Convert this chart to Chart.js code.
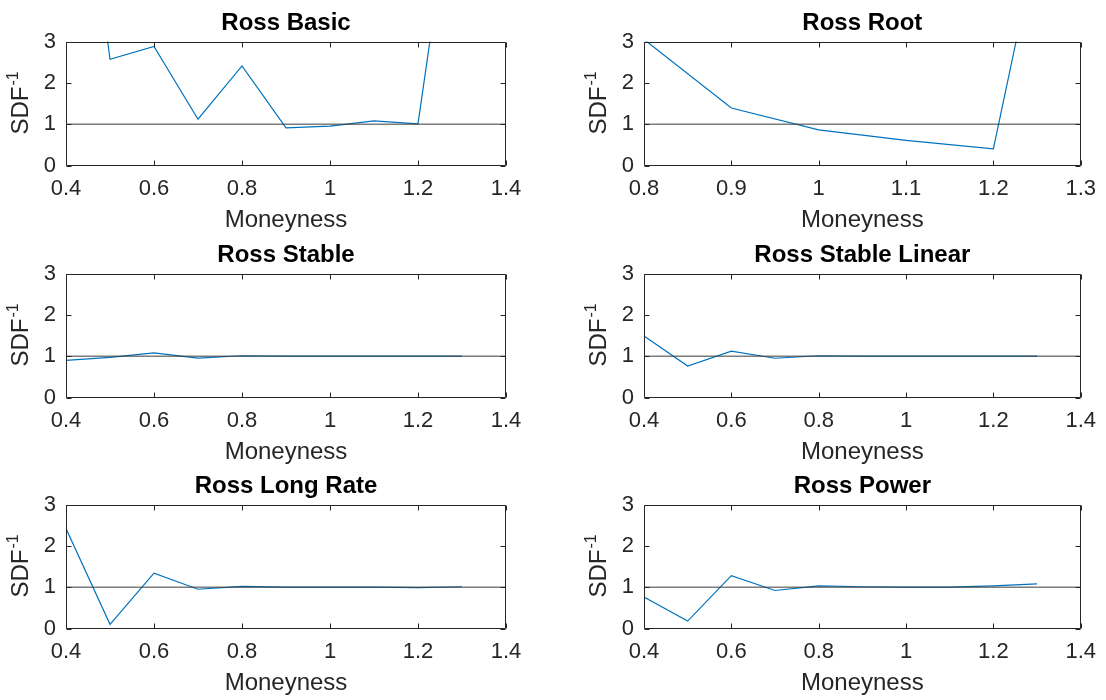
<!DOCTYPE html>
<html><head><meta charset="utf-8">
<script src="https://cdn.jsdelivr.net/npm/chart.js@4.4.0/dist/chart.umd.min.js"></script>
<style>
html,body{margin:0;padding:0;background:#fff;overflow:hidden;width:1106px;height:700px;position:relative;}
canvas{position:absolute;}
</style></head><body>
<canvas id="c0" width="540" height="240" style="left:0px;top:0px"></canvas>
<canvas id="c1" width="528" height="240" style="left:578px;top:0px"></canvas>
<canvas id="c2" width="540" height="240" style="left:0px;top:232px"></canvas>
<canvas id="c3" width="528" height="240" style="left:578px;top:232px"></canvas>
<canvas id="c4" width="540" height="240" style="left:0px;top:463px"></canvas>
<canvas id="c5" width="528" height="240" style="left:578px;top:463px"></canvas>
<script>
// ---- data ----
const moneyness = [0.4, 0.5, 0.6, 0.7, 0.8, 0.9, 1.0, 1.1, 1.2, 1.3];
const moneynessRoot = [0.8, 0.9, 1.0, 1.1, 1.2, 1.3];
const rossBasic = [10.8, 2.57, 2.88, 1.12, 2.41, 0.91, 0.955, 1.08, 1.01, 8.4];
const rossRoot = [3.05, 1.39, 0.86, 0.61, 0.40, 10.4];
const rossStable = [0.90, 0.97, 1.08, 0.955, 1.01, 1.0, 1.0, 1.0, 1.0, 1.0];
const rossStableLinear = [1.49, 0.76, 1.12, 0.95, 1.01, 1.0, 1.0, 1.0, 1.0, 1.0];
const rossLongRate = [2.42, 0.10, 1.34, 0.95, 1.02, 1.0, 1.0, 1.0, 0.99, 1.01];
const rossPower = [0.76, 0.18, 1.28, 0.92, 1.03, 1.01, 1.0, 1.0, 1.03, 1.08];
const titles = ['Ross Basic', 'Ross Root', 'Ross Stable', 'Ross Stable Linear', 'Ross Long Rate', 'Ross Power'];
const xTicksWide = [0.4, 0.6, 0.8, 1, 1.2, 1.4];
const xTicksRoot = [0.8, 0.9, 1, 1.1, 1.2, 1.3];
const yTicks = [0, 1, 2, 3];
const refLevel = 1;
const xLabel = 'Moneyness';
const yLabelMain = 'SDF';
const yLabelSup = '-1';

const FONT = '"Liberation Sans", Arial, Helvetica, sans-serif';
Chart.defaults.font.family = FONT;
const AXC = '#262626';

const boxPlugin = {
  id: 'boxTicks',
  afterDraw(chart) {
    const {ctx, chartArea: a} = chart;
    const xs = chart.scales.x, ys = chart.scales.y;
    ctx.save();
    ctx.strokeStyle = AXC;
    ctx.lineWidth = 1;
    ctx.beginPath();
    const L = Math.round(a.left) + 0.5, R = Math.round(a.right) - 0.5;
    const T = Math.round(a.top) + 0.5, B = Math.round(a.bottom) - 0.5;
    ctx.rect(L, T, R - L, B - T);
    const tl = 5;
    xs.ticks.forEach(t => {
      const p = Math.round(xs.getPixelForValue(t.value)) + 0.5;
      ctx.moveTo(p, B); ctx.lineTo(p, B - tl);
      ctx.moveTo(p, T); ctx.lineTo(p, T + tl);
    });
    ys.ticks.forEach(t => {
      const p = Math.round(ys.getPixelForValue(t.value)) + 0.5;
      ctx.moveTo(L, p); ctx.lineTo(L + tl, p);
      ctx.moveTo(R, p); ctx.lineTo(R - tl, p);
    });
    ctx.stroke();
    // y-axis title with superscript
    const cx = a.left - 47, cy = (a.top + a.bottom) / 2;
    ctx.translate(cx, cy);
    ctx.rotate(-Math.PI / 2);
    ctx.fillStyle = AXC;
    ctx.textBaseline = 'alphabetic';
    ctx.textAlign = 'left';
    ctx.font = '24px ' + FONT;
    const w1 = ctx.measureText(yLabelMain).width;
    ctx.font = '16px ' + FONT;
    const w2 = ctx.measureText(yLabelSup).width;
    const start = -(w1 + w2) / 2;
    const base = 0.716 * 24 / 2;
    ctx.font = '24px ' + FONT;
    ctx.fillText(yLabelMain, start, base);
    ctx.font = '16px ' + FONT;
    ctx.fillText(yLabelSup, start + w1 + 1, base - 10);
    ctx.restore();
  }
};

function makeChart(id, title, xv, yv, xTicks) {
  const el = document.getElementById(id);
  const H = el.height;
  new Chart(el, {
    type: 'line',
    data: {
      datasets: [
        {
          data: [{x: xTicks[0], y: refLevel}, {x: xTicks[xTicks.length - 1], y: refLevel}],
          borderColor: '#3a3a3a', borderWidth: 1, pointRadius: 0, fill: false, tension: 0, clip: 0
        },
        {
          data: xv.map((x, i) => ({x: x, y: yv[i]})),
          borderColor: '#0072BD', borderWidth: 1.2, pointRadius: 0, fill: false, tension: 0, clip: 0
        }
      ]
    },
    options: {
      responsive: false,
      animation: false,
      events: [],
      layout: {padding: {left: 0, right: el.width - 506, top: 0, bottom: 0}},
      plugins: {
        legend: {display: false},
        tooltip: {enabled: false},
        title: {
          display: true, text: title, fullSize: false, color: '#000',
          font: {size: 24, weight: 'bold', lineHeight: 1.2},
          padding: {top: 9, bottom: 3.7}
        }
      },
      scales: {
        x: {
          type: 'linear',
          min: xTicks[0], max: xTicks[xTicks.length - 1],
          afterBuildTicks: s => { s.ticks = xTicks.map(v => ({value: v})); },
          afterFit: s => { s.height = H - 165.5; },
          grid: {display: false, drawTicks: false},
          border: {display: false},
          ticks: {
            color: AXC, font: {size: 22}, padding: 10, maxRotation: 0, autoSkip: false,
            callback: v => String(v)
          },
          title: {
            display: true, text: xLabel, color: AXC,
            font: {size: 24, lineHeight: 1.2}, padding: {top: 0, bottom: H - 14.4 - 220}
          }
        },
        y: {
          type: 'linear',
          min: yTicks[0], max: yTicks[yTicks.length - 1],
          afterBuildTicks: s => { s.ticks = yTicks.map(v => ({value: v})); },
          afterFit: s => { s.width = 66; },
          grid: {display: false, drawTicks: false},
          border: {display: false},
          ticks: {color: AXC, font: {size: 22}, padding: 10, callback: v => String(v)}
        }
      }
    },
    plugins: [boxPlugin]
  });
}

makeChart('c0', titles[0], moneyness, rossBasic, xTicksWide);
makeChart('c1', titles[1], moneynessRoot, rossRoot, xTicksRoot);
makeChart('c2', titles[2], moneyness, rossStable, xTicksWide);
makeChart('c3', titles[3], moneyness, rossStableLinear, xTicksWide);
makeChart('c4', titles[4], moneyness, rossLongRate, xTicksWide);
makeChart('c5', titles[5], moneyness, rossPower, xTicksWide);
</script>
</body></html>
